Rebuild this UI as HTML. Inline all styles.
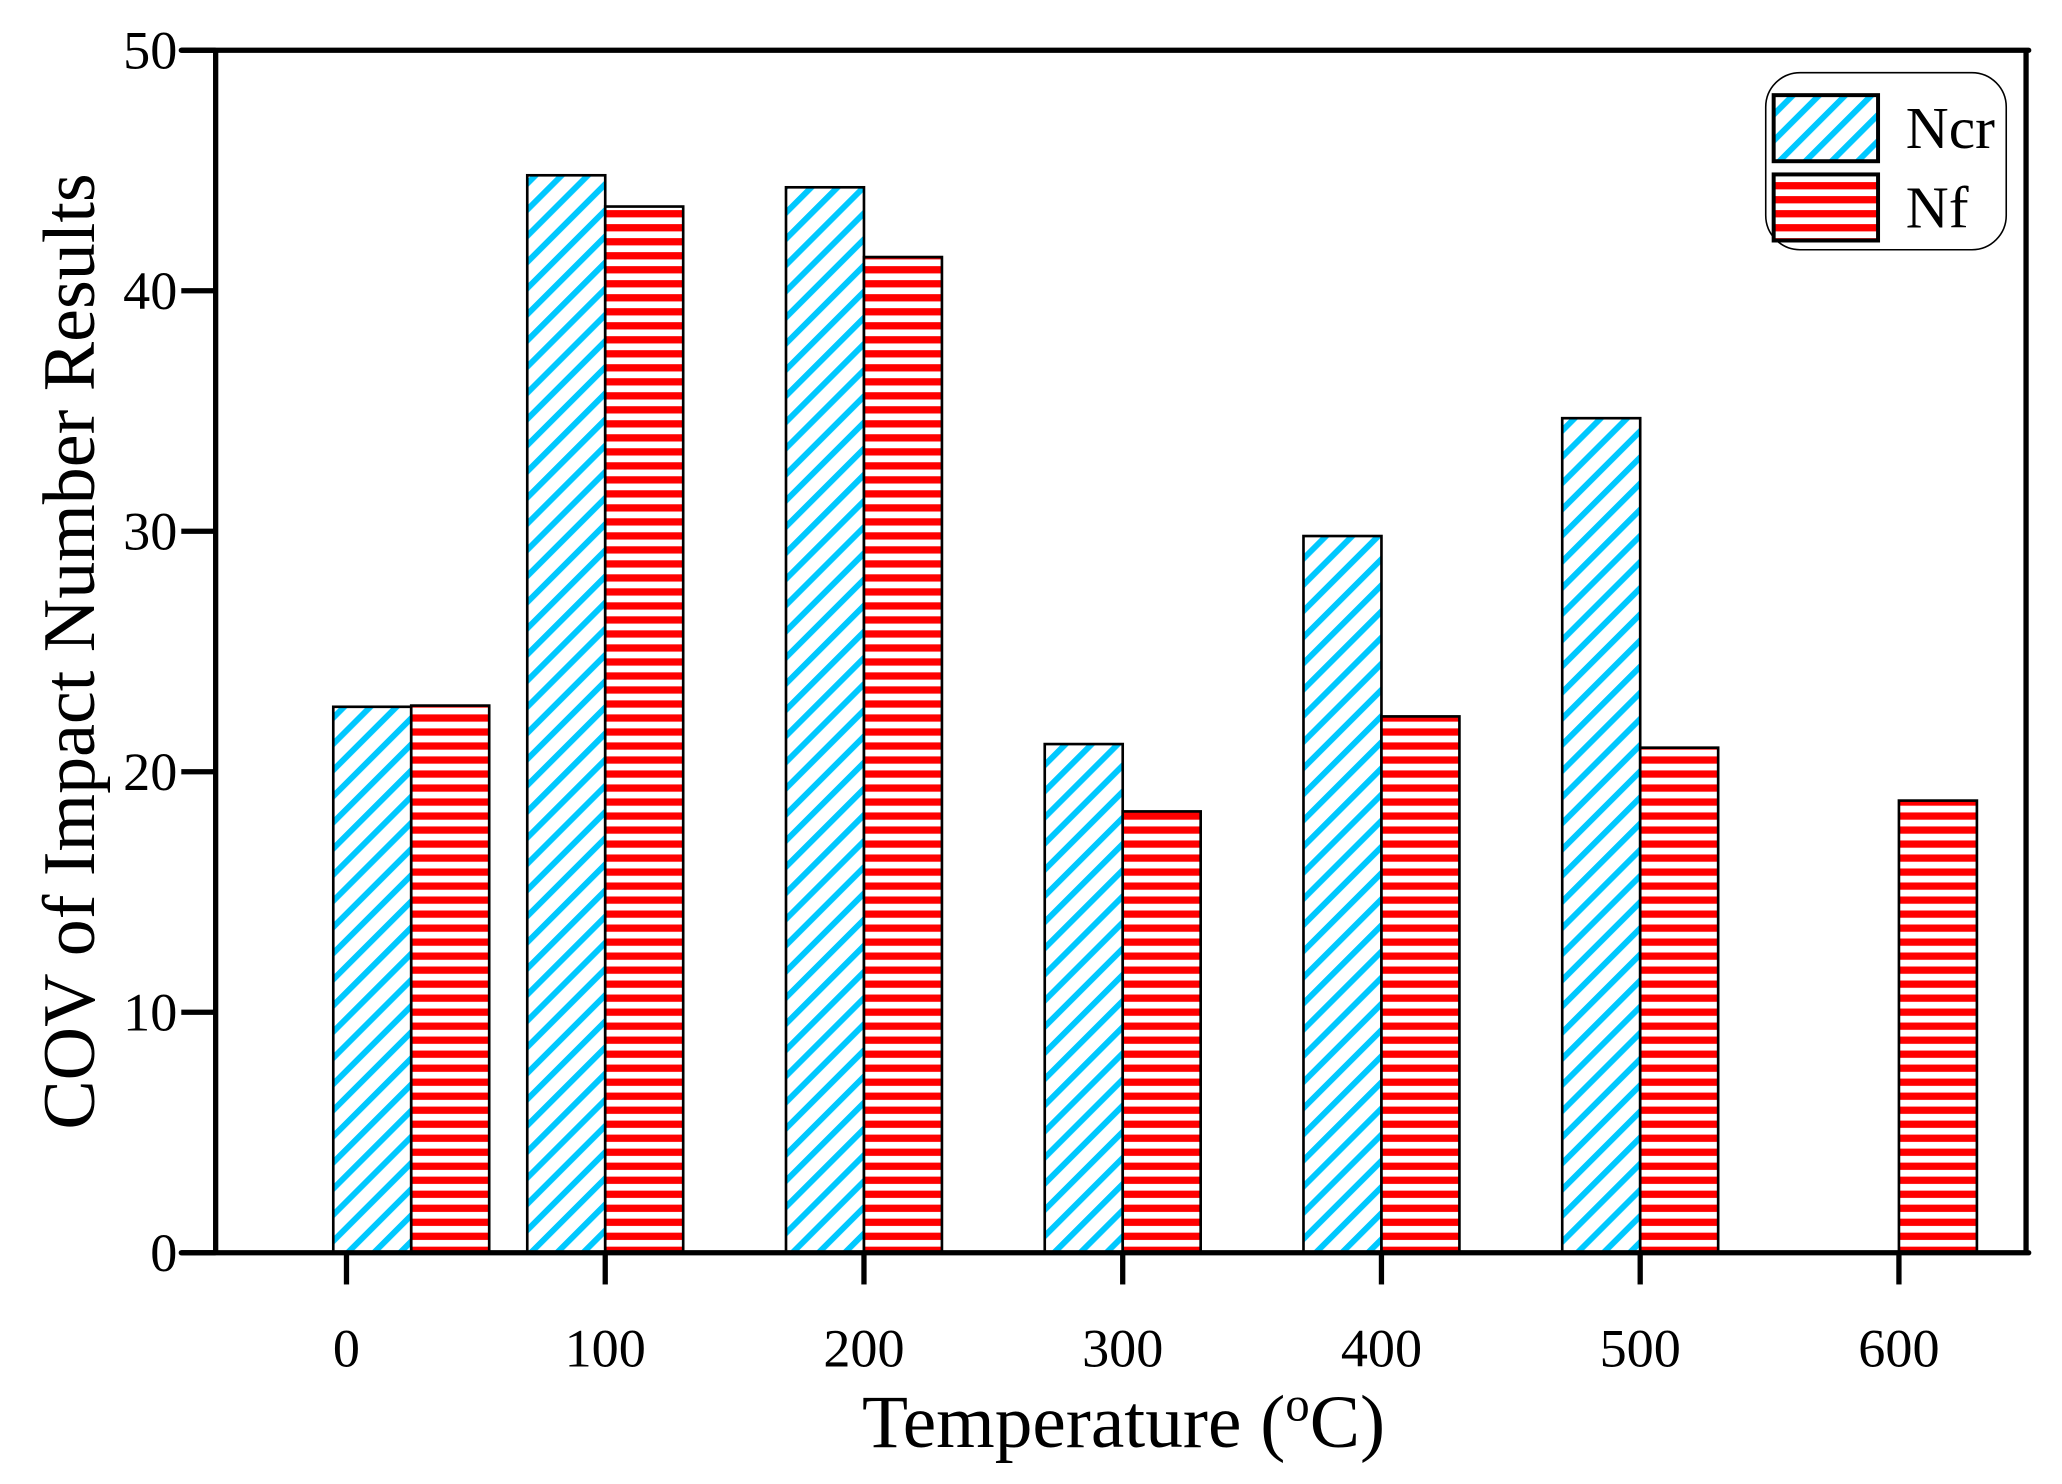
<!DOCTYPE html>
<html><head><meta charset="utf-8"><style>
html,body{margin:0;padding:0;background:#fff;}
svg{display:block;font-family:"Liberation Serif",serif;}
</style></head><body>
<svg width="2062" height="1484" viewBox="0 0 1560 1123">
<defs>
<pattern id="pc" patternUnits="userSpaceOnUse" width="14" height="14" patternTransform="rotate(45)">
<rect width="14" height="14" fill="#fff"/><rect x="0" y="0" width="4.5" height="14" fill="#00c8ff"/>
</pattern>
<pattern id="pr" patternUnits="userSpaceOnUse" width="10" height="10.6">
<rect width="10" height="10.6" fill="#fff"/><rect x="0" y="0" width="10" height="5.5" fill="#ff0000"/>
</pattern>
</defs>
<g id="bars"></g>
<g id="axes"></g>
<text x="850" y="1095" font-size="57" text-anchor="middle">Temperature (<tspan font-size="37" dy="-20">o</tspan><tspan dy="20">C)</tspan></text>
<text transform="translate(71,493) rotate(-90)" font-size="56" text-anchor="middle">COV of Impact Number Results</text>
<g>
<rect x="1336" y="55" width="182" height="134" rx="26" fill="#fff" stroke="#000" stroke-width="1.2"/>
<rect x="1342" y="72" width="79" height="50" fill="url(#pc)" stroke="#000" stroke-width="3"/>
<rect x="1342" y="132" width="79" height="50" fill="url(#pr)" stroke="#000" stroke-width="3"/>
<text x="1442" y="112" font-size="45">Ncr</text>
<text x="1442" y="172" font-size="45">Nf</text>
</g>
</svg>
<script>
const categories = [0, 100, 200, 300, 400, 500, 600];
const ncrValues = [22.7, 44.8, 44.3, 21.15, 29.8, 34.7, 0];
const nfValues = [22.75, 43.5, 41.4, 18.35, 22.3, 21.0, 18.8];
const yTicks = [0, 10, 20, 30, 40, 50];
const NS = 'http://www.w3.org/2000/svg';
const X0 = 262, XSTEP = 195.8, Y0 = 948, YTOP = 38, YMAX = 50;
const BW = 59;
function xs(c){ return X0 + (c / 100) * XSTEP; }
function ys(v){ return Y0 - (v / YMAX) * (Y0 - YTOP); }
function mk(tag, attrs, parent){ const e = document.createElementNS(NS, tag); for (const k in attrs) e.setAttribute(k, attrs[k]); parent.appendChild(e); return e; }
const bars = document.getElementById('bars');
const axes = document.getElementById('axes');
categories.forEach((c, i) => {
  let mid = xs(c);
  if (i === 0) mid += 49;
  if (ncrValues[i] > 0) {
    const r = mk('rect', {x: mid - BW, y: ys(ncrValues[i]), width: BW, height: Y0 - ys(ncrValues[i]), fill: 'url(#pc)', stroke: '#000', 'stroke-width': 2}, bars);
    
    
  }
  const r2 = mk('rect', {x: mid, y: ys(nfValues[i]), width: BW, height: Y0 - ys(nfValues[i]), fill: 'url(#pr)', stroke: '#000', 'stroke-width': 2}, bars);
  
  
});
const frame = mk('path', {d: 'M137 ' + YTOP + ' H1535 M1533 ' + YTOP + ' V' + Y0 + ' M163 ' + YTOP + ' V' + Y0 + ' M137 ' + Y0 + ' H1535', stroke: '#000', 'stroke-width': 4, fill: 'none', 'stroke-linecap': 'round'}, axes);


yTicks.forEach(t => {
  const l = mk('line', {x1: 137, x2: 163, y1: ys(t), y2: ys(t), stroke: '#000', 'stroke-width': 4}, axes);
  
  
  const tx = mk('text', {x: 134, y: ys(t) + 14, 'font-size': 41, 'text-anchor': 'end'}, axes);
  tx.textContent = t;
  
  
});
categories.forEach(c => {
  const l = mk('line', {x1: xs(c), x2: xs(c), y1: Y0, y2: 972, stroke: '#000', 'stroke-width': 4}, axes);
  
  
  const tx = mk('text', {x: xs(c), y: 1034, 'font-size': 41, 'text-anchor': 'middle'}, axes);
  tx.textContent = c;
  
  
});
</script>
</body></html>
